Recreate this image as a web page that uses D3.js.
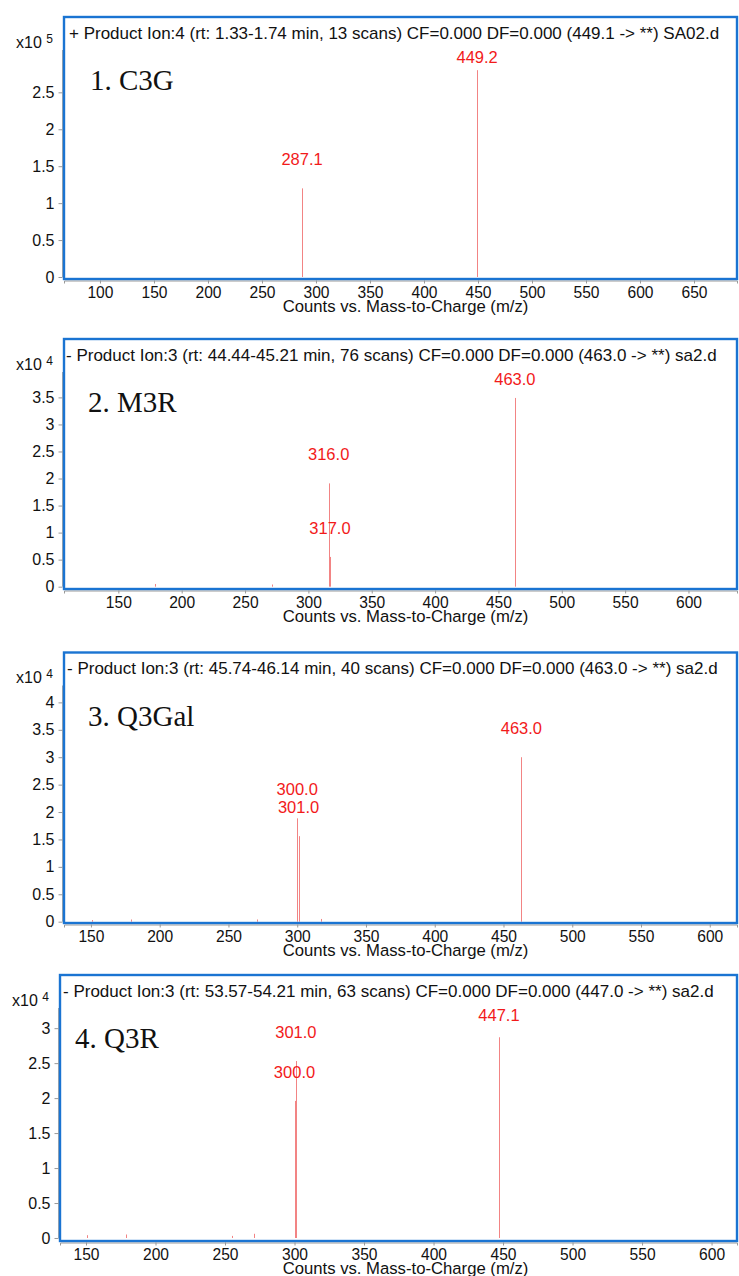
<!DOCTYPE html>
<html>
<head>
<meta charset="utf-8">
<script src="https://cdn.jsdelivr.net/npm/d3@7"></script>
<style>
  body { margin: 0; background: #fff; }
  svg { display: block; }
</style>
</head>
<body>
<div id="chart"></div>
<script>
// spectrum data, intensities in the axis units (x10^5 for panel 1, x10^4 for the rest)
var compounds = ['1. C3G', '2. M3R', '3. Q3Gal', '4. Q3R'];
var headers = [
	'+ Product Ion:4 (rt: 1.33-1.74 min, 13 scans) CF=0.000 DF=0.000 (449.1 -> **) SA02.d',
	'- Product Ion:3 (rt: 44.44-45.21 min, 76 scans) CF=0.000 DF=0.000 (463.0 -> **) sa2.d',
	'- Product Ion:3 (rt: 45.74-46.14 min, 40 scans) CF=0.000 DF=0.000 (463.0 -> **) sa2.d',
	'- Product Ion:3 (rt: 53.57-54.21 min, 63 scans) CF=0.000 DF=0.000 (447.0 -> **) sa2.d'
];
var exponents = ['5', '4', '4', '4'];

var peaksC3G   = [[287.1, 1.2], [449.2, 2.8]];
var peaksM3R   = [[178.9, 0.05], [271.0, 0.04], [316.0, 1.91], [317.0, 0.55], [463.0, 3.49]];
var peaksQ3Gal = [[151.0, 0.03], [179.0, 0.04], [271.0, 0.04], [300.0, 1.885], [301.0, 1.56], [317.0, 0.05], [463.0, 3.0]];
var peaksQ3R   = [[151.0, 0.04], [179.0, 0.05], [255.0, 0.03], [271.0, 0.06], [300.0, 1.96], [301.0, 2.53], [447.1, 2.87]];

var labelsC3G   = [[287.1, '287.1'], [449.2, '449.2']];
var labelsM3R   = [[316.0, '316.0'], [317.0, '317.0'], [463.0, '463.0']];
var labelsQ3Gal = [[300.0, '300.0'], [301.0, '301.0'], [463.0, '463.0']];
var labelsQ3R   = [[301.0, '301.0'], [300.0, '300.0'], [447.1, '447.1']];

var xTicksC3G = d3.range(100, 651, 50);
var xTicksRest = d3.range(150, 601, 50);
var yTicksC3G = [0, 0.5, 1, 1.5, 2, 2.5];
var yTicksM3R = [0, 0.5, 1, 1.5, 2, 2.5, 3, 3.5];
var yTicksQ3Gal = [0, 0.5, 1, 1.5, 2, 2.5, 3, 3.5, 4];
var yTicksQ3R = [0, 0.5, 1, 1.5, 2, 2.5, 3];

var xDomains = [[66.7, 689.8], [107.1, 638.3], [130.4, 619.8], [131.3, 618.3]];
var yDomains = [[-0.027, 3.52], [-0.043, 4.58], [-0.024, 4.91], [-0.043, 3.76]];

var width = 739,
	height = 1276,
	blue = '#1a74d2',
	peakColor = '#f28484',
	labelColor = '#f21a1a',
	sans = '"Liberation Sans", Arial, sans-serif';

// frame boxes of the four panels
var panels = [
	{left: 64, top: 17, bottom: 279, peaks: peaksC3G, labels: labelsC3G, xTicks: xTicksC3G, yTicks: yTicksC3G, hx: 69, nameX: 90},
	{left: 64, top: 339, bottom: 589, peaks: peaksM3R, labels: labelsM3R, xTicks: xTicksRest, yTicks: yTicksM3R, hx: 66, nameX: 88},
	{left: 64, top: 652.5, bottom: 923, peaks: peaksQ3Gal, labels: labelsQ3Gal, xTicks: xTicksRest, yTicks: yTicksQ3Gal, hx: 67, nameX: 88},
	{left: 60, top: 975, bottom: 1241, peaks: peaksQ3R, labels: labelsQ3R, xTicks: xTicksRest, yTicks: yTicksQ3R, hx: 63, nameX: 75}
];
var right = 737;

var svg = d3.select('#chart').append('svg')
	.attr('width', width)
	.attr('height', height)
	.attr('viewBox', '0 0 ' + width + ' ' + height);

panels.forEach(function(p, i) {
	var x = d3.scaleLinear().domain(xDomains[i]).range([p.left, right]);
	var y = d3.scaleLinear().domain(yDomains[i]).range([p.bottom, p.top]);
	var g = svg.append('g');
	var headerY = p.top + 16;
	var x10Y = p.top + 25;

	//gray y axis line, sits just left of the blue frame
	g.append('line')
		.attr('x1', p.left - 1.5).attr('x2', p.left - 1.5)
		.attr('y1', y(0)).attr('y2', x10Y + 8)
		.attr('stroke', '#aaa').attr('stroke-width', 1);

	var yAxis = g.append('g')
		.attr('transform', 'translate(' + (p.left - 1.5) + ',0)')
		.call(d3.axisLeft(y).tickValues(p.yTicks).tickSize(4).tickPadding(4).tickFormat(d3.format('')));
	yAxis.select('.domain').remove();
	yAxis.selectAll('line').attr('stroke', '#999');
	yAxis.selectAll('text')
		.style('font-family', sans)
		.style('font-size', '16px')
		.attr('fill', '#111');

	var xAxis = g.append('g')
		.attr('transform', 'translate(0,' + (p.bottom + 1.5) + ')')
		.call(d3.axisBottom(x).tickValues(p.xTicks).tickSize(3).tickPadding(3));
	xAxis.select('.domain').attr('stroke', '#999');
	xAxis.selectAll('line').attr('stroke', '#999');
	xAxis.selectAll('text')
		.style('font-family', sans)
		.style('font-size', '15.6px')
		.attr('fill', '#111');

	//peaks as sticks
	g.selectAll('.peak').data(p.peaks).enter().append('line')
		.attr('class', 'peak')
		.attr('x1', function(d) { return Math.round(x(d[0])) + 0.5; })
		.attr('x2', function(d) { return Math.round(x(d[0])) + 0.5; })
		.attr('y1', y(0))
		.attr('y2', function(d) { return y(d[1]); })
		.attr('stroke', peakColor)
		.attr('stroke-width', 1);

	//peak labels, kept below the header line
	var lookup = {};
	p.peaks.forEach(function(d) { lookup[d[0]] = d[1]; });
	g.selectAll('.plabel').data(p.labels).enter().append('text')
		.attr('class', 'plabel')
		.attr('x', function(d) { return x(d[0]); })
		.attr('y', function(d) { return Math.max(y(lookup[d[0]]) - 29, headerY + 24); })
		.attr('dy', '0.35em')
		.attr('text-anchor', 'middle')
		.style('font-family', sans)
		.style('font-size', '16.5px')
		.attr('fill', labelColor)
		.text(function(d) { return d[1]; });

	//blue frame
	g.append('rect')
		.attr('x', p.left).attr('y', p.top)
		.attr('width', right - p.left).attr('height', p.bottom - p.top)
		.attr('fill', 'none')
		.attr('stroke', blue)
		.attr('stroke-width', 2.4);

	g.append('text')
		.attr('x', p.hx).attr('y', headerY)
		.attr('dy', '0.35em')
		.style('font-family', sans)
		.style('font-size', '17px')
		.attr('fill', '#111')
		.text(headers[i]);

	var x10 = g.append('text')
		.attr('x', p.left - 48).attr('y', x10Y)
		.attr('dy', '0.35em')
		.style('font-family', sans)
		.style('font-size', '16px')
		.attr('fill', '#111');
	x10.append('tspan').text('x10 ');
	x10.append('tspan').attr('dy', '-5').style('font-size', '12px').text(exponents[i]);

	g.append('text')
		.attr('x', p.nameX).attr('y', p.top + 63)
		.attr('dy', '0.35em')
		.style('font-family', '"Liberation Serif", "Times New Roman", serif')
		.style('font-size', '29px')
		.attr('fill', '#111')
		.text(compounds[i]);

	g.append('text')
		.attr('x', 405.5).attr('y', p.bottom + 27)
		.attr('dy', '0.35em')
		.attr('text-anchor', 'middle')
		.style('font-family', sans)
		.style('font-size', '16.7px')
		.attr('fill', '#111')
		.text('Counts vs. Mass-to-Charge (m/z)');
});
</script>
</body>
</html>
